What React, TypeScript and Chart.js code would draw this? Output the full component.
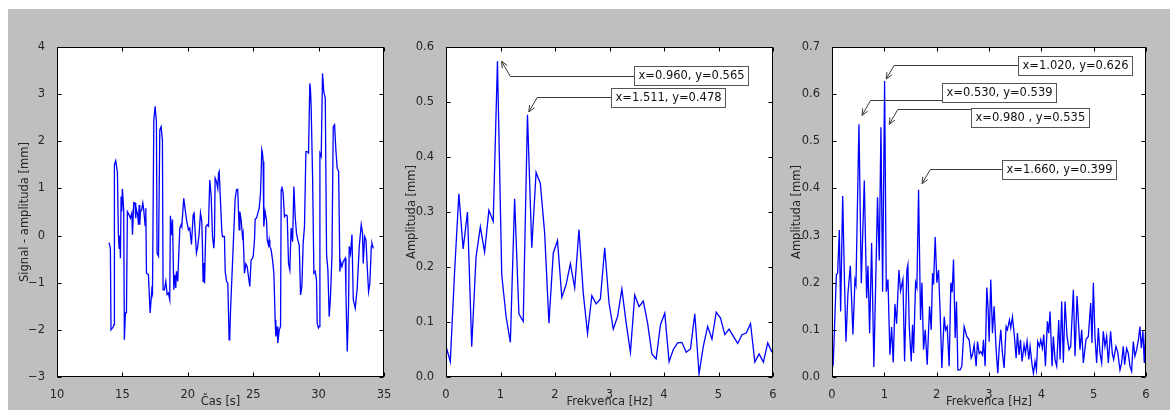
import React, { useEffect, useRef } from 'react';
import { Chart, registerables } from 'chart.js';

Chart.register(...registerables);

// ---------------- Panel 1: time signal ----------------
const TIME = [
  13.98, 14.08, 14.13, 14.29, 14.36, 14.39, 14.49, 14.62, 14.69, 14.75, 14.80, 14.85, 14.90, 14.95, 15.00,
  15.10, 15.15, 15.23, 15.31, 15.38, 15.51, 15.61, 15.72, 15.77, 15.87, 15.97, 16.02, 16.07, 16.17, 16.23,
  16.28, 16.33, 16.38, 16.48, 16.56, 16.63, 16.74, 16.79, 16.84, 16.99, 17.12, 17.25, 17.30, 17.40, 17.50,
  17.60, 17.65, 17.76, 17.86, 17.96, 18.06, 18.11, 18.21, 18.32, 18.42, 18.52, 18.62, 18.67, 18.78, 18.83,
  18.93, 19.00, 19.08, 19.13, 19.23, 19.39, 19.49, 19.54, 19.69, 19.80, 19.90, 20.05, 20.15, 20.28, 20.41,
  20.48, 20.56, 20.66, 20.76, 20.87, 20.97, 21.07, 21.12, 21.17, 21.22, 21.28, 21.38, 21.48, 21.58, 21.68,
  21.79, 21.89, 21.99, 22.04, 22.09, 22.19, 22.29, 22.35, 22.40, 22.45, 22.60, 22.65, 22.80, 22.86, 22.96,
  23.06, 23.11, 23.16, 23.21, 23.26, 23.62, 23.72, 23.82, 23.87, 23.93, 23.98, 24.08, 24.18, 24.23, 24.33,
  24.44, 24.54, 24.64, 24.74, 24.84, 24.95, 25.00, 25.10, 25.15, 25.25, 25.35, 25.46, 25.56, 25.66, 25.71,
  25.76, 25.81, 25.91, 26.02, 26.07, 26.17, 26.22, 26.27, 26.37, 26.48, 26.58, 26.68, 26.73, 26.83, 26.88,
  26.99, 27.09, 27.14, 27.19, 27.29, 27.39, 27.50, 27.60, 27.70, 27.80, 27.90, 28.01, 28.11, 28.21, 28.31,
  28.41, 28.52, 28.62, 28.72, 28.82, 28.92, 29.03, 29.13, 29.23, 29.33, 29.38, 29.43, 29.54, 29.64, 29.74,
  29.84, 29.89, 29.99, 30.05, 30.10, 30.20, 30.30, 30.40, 30.51, 30.61, 30.71, 30.81, 30.91, 31.02, 31.12,
  31.22, 31.32, 31.42, 31.53, 31.63, 31.68, 31.78, 31.88, 32.04, 32.09, 32.19, 32.29, 32.34, 32.44, 32.55,
  32.65, 32.80, 32.95, 33.11, 33.26, 33.36, 33.41, 33.52, 33.62, 33.72, 33.82, 33.92, 34.03, 34.08, 34.18,
];
const SIGNAL = [
  -0.15, -0.27, -2.0, -1.94, -1.89, 1.5, 1.59, 1.34, 0.05, -0.27, 0.0, -0.48, 0.83, 0.51, 0.99,
  0.55, -2.21, -1.64, -1.64, 0.51, 0.44, 0.37, 0.48, 0.02, 0.7, 0.69, 0.37, 0.56, 0.44, 0.23,
  0.65, 0.23, 0.51, 0.55, 0.69, 0.55, 0.21, 0.58, -0.8, -0.83, -1.64, -1.15, -1.22, 2.44, 2.74,
  2.42, -0.37, -0.44, 2.24, 2.31, 2.02, -1.15, -1.15, -0.97, -1.25, -1.22, -1.36, 0.42, 0.0, 0.34,
  -1.15, -0.83, -1.11, -0.76, -0.97, 0.16, 0.23, 0.19, 0.79, 0.55, 0.34, 0.12, 0.16, -0.19, 0.44,
  0.48, 0.09, -0.37, -0.23, 0.05, 0.48, 0.3, -0.23, -0.97, -0.58, -1.01, 0.19, 0.23, 0.2, 1.18,
  0.83, -0.02, -0.27, -0.02, 1.22, 1.15, 1.0, 1.32, 1.36, 1.36, 0.09, -0.02, -0.02, -0.76, -0.97,
  -1.01, -1.61, -2.21, -2.14, -1.64, 0.77, 0.97, 0.98, 0.55, 0.12, 0.51, 0.33, -0.02, 0.05, -0.8,
  -0.6, -0.66, -0.87, -1.08, -0.52, -0.48, -0.44, -0.09, 0.35, 0.37, 0.47, 0.58, 0.9, 1.82, 1.75,
  1.57, 0.19, 0.51, 0.33, -0.09, -0.2, -0.09, -0.23, -0.3, -0.52, -0.8, -1.79, -2.14, -1.93, -2.28,
  -2.0, -1.93, 0.97, 1.04, 0.9, 0.4, 0.44, 0.42, -0.59, -0.73, 0.16, -0.13, 1.04, 0.4, 0.05,
  -0.09, -0.2, -1.26, -1.08, -0.16, 0.19, 1.78, 1.78, 1.75, 3.23, 3.09, 2.73, 1.25, -0.8, -0.76,
  -0.94, -1.86, -1.96, -1.93, 1.75, 1.68, 3.44, 3.05, 2.91, -0.41, -0.73, -1.72, -1.29, -0.44, 2.31,
  2.35, 1.82, 1.43, 1.36, -0.76, -0.55, -0.66, -0.55, -0.48, -1.22, -2.46, -1.5, -0.23, -0.38, 0.02,
  -1.36, -1.54, -1.12, -0.23, 0.23, 0.05, -0.59, -0.02, -0.09, -0.66, -1.19, -1.01, -0.23, -0.16, -0.27,
];

// ---------------- Panel 2: coarse spectrum ----------------
const FREQ_A = [
  0.000, 0.079, 0.157, 0.236, 0.315, 0.394, 0.472, 0.551, 0.630, 0.708,
  0.787, 0.866, 0.944, 1.023, 1.102, 1.181, 1.259, 1.338, 1.417, 1.495,
  1.574, 1.653, 1.731, 1.810, 1.889, 1.968, 2.046, 2.125, 2.204, 2.282,
  2.361, 2.440, 2.518, 2.597, 2.676, 2.755, 2.833, 2.912, 2.991, 3.069,
  3.148, 3.227, 3.306, 3.384, 3.463, 3.542, 3.620, 3.699, 3.778, 3.856,
  3.935, 4.014, 4.093, 4.171, 4.250, 4.329, 4.407, 4.486, 4.565, 4.643,
  4.722, 4.801, 4.880, 4.958, 5.037, 5.116, 5.194, 5.273, 5.352, 5.430,
  5.509, 5.588, 5.667, 5.745, 5.824, 5.903, 5.981,
];
const AMP_A = [
  0.056, 0.028, 0.19, 0.333, 0.233, 0.300, 0.055, 0.218, 0.273, 0.227,
  0.303, 0.283, 0.574, 0.186, 0.110, 0.063, 0.324, 0.115, 0.101, 0.477,
  0.235, 0.372, 0.352, 0.262, 0.098, 0.225, 0.248, 0.145, 0.168, 0.206,
  0.162, 0.268, 0.153, 0.079, 0.148, 0.133, 0.142, 0.235, 0.135, 0.087,
  0.110, 0.160, 0.098, 0.045, 0.149, 0.128, 0.138, 0.098, 0.042, 0.033,
  0.095, 0.116, 0.028, 0.050, 0.062, 0.063, 0.045, 0.051, 0.115, 0.006,
  0.056, 0.092, 0.069, 0.118, 0.107, 0.077, 0.087, 0.074, 0.061, 0.077,
  0.080, 0.097, 0.027, 0.042, 0.027, 0.062, 0.045,
];

// ---------------- Panel 3: fine spectrum ----------------
const FREQ_B = [
  0.000, 0.025, 0.083, 0.108, 0.140, 0.165, 0.204, 0.235, 0.267, 0.305, 0.350, 0.400, 0.439, 0.458, 0.515,
  0.560, 0.617, 0.662, 0.687, 0.719, 0.757, 0.800, 0.870, 0.903, 0.935, 0.967, 1.005, 1.037, 1.069, 1.107,
  1.139, 1.170, 1.202, 1.234, 1.279, 1.310, 1.355, 1.387, 1.431, 1.450, 1.476, 1.514, 1.539, 1.559, 1.597,
  1.622, 1.654, 1.692, 1.718, 1.749, 1.781, 1.819, 1.864, 1.896, 1.921, 1.940, 1.972, 2.004, 2.036, 2.067,
  2.099, 2.144, 2.169, 2.201, 2.239, 2.271, 2.296, 2.322, 2.354, 2.379, 2.405, 2.449, 2.481, 2.525, 2.576,
  2.621, 2.659, 2.684, 2.716, 2.754, 2.780, 2.812, 2.844, 2.875, 2.894, 2.926, 2.958, 2.983, 3.003, 3.034,
  3.066, 3.098, 3.136, 3.168, 3.193, 3.225, 3.257, 3.289, 3.327, 3.352, 3.391, 3.416, 3.448, 3.486, 3.518,
  3.543, 3.575, 3.601, 3.632, 3.670, 3.696, 3.728, 3.760, 3.785, 3.823, 3.849, 3.880, 3.906, 3.931, 3.963,
  3.989, 4.020, 4.046, 4.078, 4.116, 4.141, 4.167, 4.205, 4.230, 4.262, 4.294, 4.332, 4.358, 4.389, 4.421,
  4.453, 4.491, 4.529, 4.561, 4.612, 4.644, 4.682, 4.714, 4.739, 4.771, 4.803, 4.854, 4.898, 4.943, 4.968,
  4.994, 5.025, 5.057, 5.089, 5.121, 5.153, 5.184, 5.216, 5.248, 5.280, 5.324, 5.356, 5.382, 5.426, 5.458,
  5.503, 5.534, 5.566, 5.592, 5.630, 5.662, 5.693, 5.725, 5.757, 5.789, 5.821, 5.859, 5.884, 5.910, 5.941,
  5.967, 5.992,
];
const AMP_B = [
  0.044, 0.031, 0.217, 0.220, 0.312, 0.139, 0.384, 0.220, 0.075, 0.178, 0.236, 0.090, 0.206, 0.196, 0.536,
  0.199, 0.417, 0.167, 0.236, 0.093, 0.284, 0.021, 0.381, 0.247, 0.530, 0.181, 0.628, 0.181, 0.207, 0.047,
  0.106, 0.031, 0.155, 0.113, 0.227, 0.183, 0.207, 0.033, 0.227, 0.238, 0.107, 0.033, 0.111, 0.051, 0.200,
  0.189, 0.397, 0.121, 0.200, 0.058, 0.100, 0.026, 0.150, 0.100, 0.220, 0.196, 0.297, 0.200, 0.227, 0.135,
  0.019, 0.128, 0.100, 0.107, 0.023, 0.200, 0.180, 0.249, 0.083, 0.160, 0.015, 0.015, 0.023, 0.107, 0.086,
  0.079, 0.040, 0.047, 0.068, 0.023, 0.075, 0.050, 0.054, 0.047, 0.079, 0.023, 0.190, 0.146, 0.075, 0.207,
  0.093, 0.150, 0.058, 0.008, 0.058, 0.100, 0.050, 0.019, 0.107, 0.100, 0.121, 0.104, 0.128, 0.086, 0.040,
  0.093, 0.047, 0.079, 0.033, 0.068, 0.050, 0.076, 0.037, 0.065, 0.026, 0.008, 0.033, 0.015, 0.075, 0.065,
  0.079, 0.061, 0.090, 0.023, 0.118, 0.093, 0.139, 0.023, 0.086, 0.037, 0.023, 0.121, 0.037, 0.160, 0.030,
  0.160, 0.086, 0.058, 0.065, 0.185, 0.044, 0.172, 0.107, 0.058, 0.100, 0.030, 0.080, 0.086, 0.157, 0.072,
  0.200, 0.086, 0.030, 0.104, 0.050, 0.030, 0.097, 0.065, 0.086, 0.030, 0.097, 0.050, 0.037, 0.065, 0.054,
  0.015, 0.030, 0.065, 0.026, 0.061, 0.050, 0.023, 0.012, 0.075, 0.044, 0.058, 0.082, 0.107, 0.061, 0.097,
  0.030, 0.097,
];

// Annotations: arrow tip (data), box left / centre (data), leader line height (data)
type Ann = { text: string; tipX: number; tipY: number; boxX: number; boxY: number; lineY: number };
const ANN_A: Ann[] = [
  { text: 'x=0.960, y=0.565', tipX: 1.02, tipY: 0.574, boxX: 3.446, boxY: 0.549, lineY: 0.547 },
  { text: 'x=1.511, y=0.478', tipX: 1.52, tipY: 0.482, boxX: 3.019, boxY: 0.509, lineY: 0.509 },
];
const ANN_B: Ann[] = [
  { text: 'x=1.020, y=0.626', tipX: 1.036, tipY: 0.632, boxX: 3.55, boxY: 0.661, lineY: 0.662 },
  { text: 'x=0.530, y=0.539', tipX: 0.573, tipY: 0.555, boxX: 2.111, boxY: 0.603, lineY: 0.587 },
  { text: 'x=0.980 , y=0.535', tipX: 1.094, tipY: 0.536, boxX: 2.653, boxY: 0.551, lineY: 0.568 },
  { text: 'x=1.660, y=0.399', tipX: 1.721, tipY: 0.410, boxX: 3.256, boxY: 0.440, lineY: 0.441 },
];

const FONT = '"DejaVu Sans", sans-serif';
const TXT = '#262626';

function fmtTick(v: number, dec: number) {
  const s = Math.abs(v).toFixed(dec);
  return (v < -1e-9 ? '\u2212' : '') + s;
}

const framePlugin = {
  id: 'mplFrame',
  beforeDraw(chart: any) {
    const { ctx, chartArea: a } = chart;
    ctx.save();
    ctx.fillStyle = '#ffffff';
    ctx.fillRect(a.left, a.top, a.right - a.left, a.bottom - a.top);
    ctx.restore();
  },
  afterDraw(chart: any) {
    const { ctx, chartArea: a, scales } = chart;
    ctx.save();
    ctx.strokeStyle = '#000';
    ctx.lineWidth = 1;
    const L = Math.round(a.left) + 0.5, R = Math.round(a.right) - 0.5;
    const T = Math.round(a.top) + 0.5, B = Math.round(a.bottom) - 0.5;
    const tl = 4;
    ctx.beginPath();
    for (const t of scales.x.ticks) {
      const p = Math.round(scales.x.getPixelForValue(t.value)) + 0.5;
      ctx.moveTo(p, B); ctx.lineTo(p, B - tl);
      ctx.moveTo(p, T); ctx.lineTo(p, T + tl);
    }
    for (const t of scales.y.ticks) {
      const p = Math.round(scales.y.getPixelForValue(t.value)) + 0.5;
      ctx.moveTo(L, p); ctx.lineTo(L + tl, p);
      ctx.moveTo(R, p); ctx.lineTo(R - tl, p);
    }
    ctx.stroke();
    ctx.strokeRect(L, T, R - L, B - T);

    const anns: Ann[] = chart.options.plugins.mplFrame?.annotations || [];
    ctx.font = `11.5px ${FONT}`;
    for (const an of anns) {
      const x = scales.x, y = scales.y;
      const tx = x.getPixelForValue(an.tipX), ty = y.getPixelForValue(an.tipY);
      const bx = Math.round(x.getPixelForValue(an.boxX)) + 0.5;
      const by = y.getPixelForValue(an.boxY);
      const ly = Math.round(y.getPixelForValue(an.lineY)) + 0.5;
      const ex = tx + Math.abs(ly - ty) / Math.tan(Math.PI / 3);
      ctx.strokeStyle = '#3a3a3a';
      ctx.lineWidth = 1;
      ctx.beginPath();
      ctx.moveTo(bx, ly); ctx.lineTo(ex, ly); ctx.lineTo(tx, ty);
      ctx.stroke();
      const ang = Math.atan2(ty - ly, tx - ex);
      const hl = 7, w = 0.42;
      ctx.beginPath();
      ctx.moveTo(tx - hl * Math.cos(ang - w), ty - hl * Math.sin(ang - w));
      ctx.lineTo(tx, ty);
      ctx.lineTo(tx - hl * Math.cos(ang + w), ty - hl * Math.sin(ang + w));
      ctx.stroke();
      const tw = ctx.measureText(an.text).width;
      const pad = 4, h = 19;
      const top = Math.round(by - h / 2) + 0.5;
      const bw = Math.round(tw + 2 * pad);
      ctx.fillStyle = '#fff';
      ctx.fillRect(bx, top, bw, h);
      ctx.strokeStyle = '#555';
      ctx.strokeRect(bx, top, bw, h);
      ctx.fillStyle = '#111';
      ctx.textBaseline = 'middle';
      ctx.textAlign = 'left';
      ctx.fillText(an.text, bx + pad, by + 0.5);
    }
    ctx.restore();
  },
};

type PanelCfg = {
  xs: number[]; ys: number[];
  xMin: number; xMax: number; xStep: number; xDec: number;
  yMin: number; yMax: number; yStep: number; yDec: number;
  xTitle: string; yTitle: string;
  yAxisW: number; padRight: number; yTitlePad: number;
  anns: Ann[];
};

function Panel({ cfg, left, width }: { cfg: PanelCfg; left: number; width: number }) {
  const ref = useRef<HTMLCanvasElement | null>(null);
  useEffect(() => {
    if (!ref.current) return;
    const data = cfg.xs.map((x, i) => ({ x, y: cfg.ys[i] }));
    const chart = new Chart(ref.current, {
      type: 'line',
      data: {
        datasets: [{
          data,
          borderColor: '#0000ff',
          borderWidth: 1.3,
          pointRadius: 0,
          tension: 0,
          fill: false,
        }],
      },
      plugins: [framePlugin],
      options: {
        animation: false,
        responsive: false,
        devicePixelRatio: 1,
        layout: { padding: { top: 38, right: cfg.padRight, left: 0, bottom: 0 } },
        plugins: {
          legend: { display: false },
          tooltip: { enabled: false },
          mplFrame: { annotations: cfg.anns },
        } as any,
        scales: {
          x: {
            type: 'linear',
            min: cfg.xMin, max: cfg.xMax,
            grid: { display: false },
            border: { display: false },
            ticks: {
              stepSize: cfg.xStep, autoSkip: false, maxRotation: 0, padding: 3,
              color: TXT, font: { family: FONT, size: 11.5 },
              callback: (v: any) => fmtTick(Number(v), cfg.xDec),
            },
            title: {
              display: true, text: cfg.xTitle, color: TXT,
              font: { family: FONT, size: 11.5 }, padding: { top: 0, bottom: 1.5 },
            },
            afterFit: (s: any) => { s.height = 33; },
          },
          y: {
            type: 'linear',
            min: cfg.yMin, max: cfg.yMax,
            grid: { display: false },
            border: { display: false },
            ticks: {
              stepSize: cfg.yStep, autoSkip: false, padding: 4,
              color: TXT, font: { family: FONT, size: 11.5 },
              callback: (v: any) => fmtTick(Number(v), cfg.yDec),
            },
            title: {
              display: true, text: cfg.yTitle, color: TXT,
              font: { family: FONT, size: 11.5 }, padding: { top: cfg.yTitlePad, bottom: 0 },
            },
            afterFit: (s: any) => { s.width = cfg.yAxisW; },
          },
        },
      } as any,
    });
    return () => chart.destroy();
  }, [cfg]);
  return (
    <canvas
      ref={ref}
      width={width}
      height={401}
      style={{ position: 'absolute', left, top: 0, width, height: 401 }}
    />
  );
}

const P1: PanelCfg = {
  xs: TIME, ys: SIGNAL, xMin: 10, xMax: 35, xStep: 5, xDec: 0,
  yMin: -3, yMax: 4, yStep: 1, yDec: 0,
  xTitle: 'Čas [s]', yTitle: 'Signal - amplituda [mm]',
  yAxisW: 49, padRight: 16, yTitlePad: 10, anns: [],
};
const P2: PanelCfg = {
  xs: FREQ_A, ys: AMP_A, xMin: 0, xMax: 6, xStep: 1, xDec: 0,
  yMin: 0, yMax: 0.6, yStep: 0.1, yDec: 1,
  xTitle: 'Frekvenca [Hz]', yTitle: 'Amplituda [mm]',
  yAxisW: 46, padRight: 7, yTitlePad: 5.5, anns: ANN_A,
};
const P3: PanelCfg = {
  xs: FREQ_B, ys: AMP_B, xMin: 0, xMax: 6, xStep: 1, xDec: 0,
  yMin: 0, yMax: 0.7, yStep: 0.1, yDec: 1,
  xTitle: 'Frekvenca [Hz]', yTitle: 'Amplituda [mm]',
  yAxisW: 52, padRight: 24, yTitlePad: 10.5, anns: ANN_B,
};

export default function App() {
  return (
    <div style={{ position: 'absolute', left: 8, top: 9, width: 1162, height: 401, background: '#bfbfbf', overflow: 'hidden' }}>
      <Panel cfg={P1} left={0} width={392} />
      <Panel cfg={P2} left={392} width={380} />
      <Panel cfg={P3} left={772} width={390} />
    </div>
  );
}
